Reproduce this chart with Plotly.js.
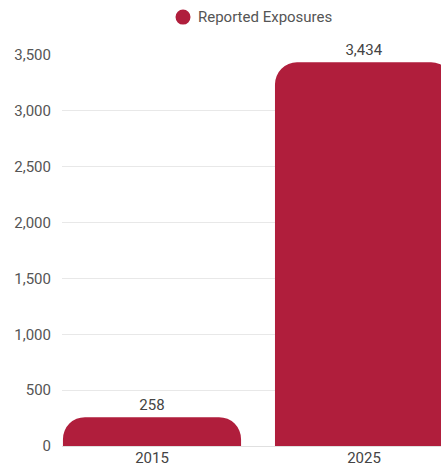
<!DOCTYPE html>
<html>
<head>
<meta charset="utf-8">
<script src="https://cdn.plot.ly/plotly-3.0.1.min.js"></script>
<style>html,body{margin:0;padding:0;background:#fff;}#chart{width:441px;height:468px;}</style>
</head>
<body>
<div id="chart"></div>
<script>
const years = ['2015', '2025'];
const reportedExposures = [258, 3434];
const seriesName = 'Reported Exposures';
const barColor = '#B01E3C';

const traces = [
  {
    type: 'bar',
    x: years,
    y: reportedExposures,
    name: seriesName,
    showlegend: false,
    width: 0.84,
    marker: {color: barColor, cornerradius: 22},
    texttemplate: '%{y:,}',
    textposition: 'outside',
    cliponaxis: false,
    textfont: {family: 'Roboto, sans-serif', size: 15, color: '#444'},
    hoverinfo: 'skip'
  }
];

const layout = {
  width: 441,
  height: 468,
  margin: {l: 62, r: 0, t: 55, b: 22},
  paper_bgcolor: '#fff',
  plot_bgcolor: '#fff',
  font: {family: 'Roboto, sans-serif', size: 15, color: '#555'},
  showlegend: false,
  shapes: [
    {
      type: 'circle',
      xref: 'paper', yref: 'paper',
      xsizemode: 'pixel', ysizemode: 'pixel',
      xanchor: 0.3193, yanchor: 1.097,
      x0: -7.5, x1: 7.5, y0: -7.5, y1: 7.5,
      fillcolor: barColor,
      line: {width: 0}
    }
  ],
  annotations: [
    {
      text: seriesName,
      xref: 'paper', yref: 'paper',
      x: 0.354, y: 1.097,
      xanchor: 'left', yanchor: 'middle',
      showarrow: false,
      font: {size: 15, color: '#555'}
    }
  ],
  xaxis: {
    type: 'category',
    range: [-0.4245, 1.363],
    showgrid: false,
    zeroline: false,
    showline: false,
    ticks: '',
    tickfont: {size: 15, color: '#444'},
    ticklabelstandoff: 1
  },
  yaxis: {
    range: [0, 3500],
    dtick: 500,
    tickformat: ',',
    showgrid: true,
    gridcolor: '#e8e8e8',
    zeroline: true,
    zerolinecolor: '#e0e0e0',
    showline: false,
    ticks: '',
    ticklabelstandoff: 10,
    tickfont: {size: 15, color: '#555'}
  }
};

Plotly.newPlot('chart', traces, layout, {displayModeBar: false, staticPlot: true});
</script>
</body>
</html>
